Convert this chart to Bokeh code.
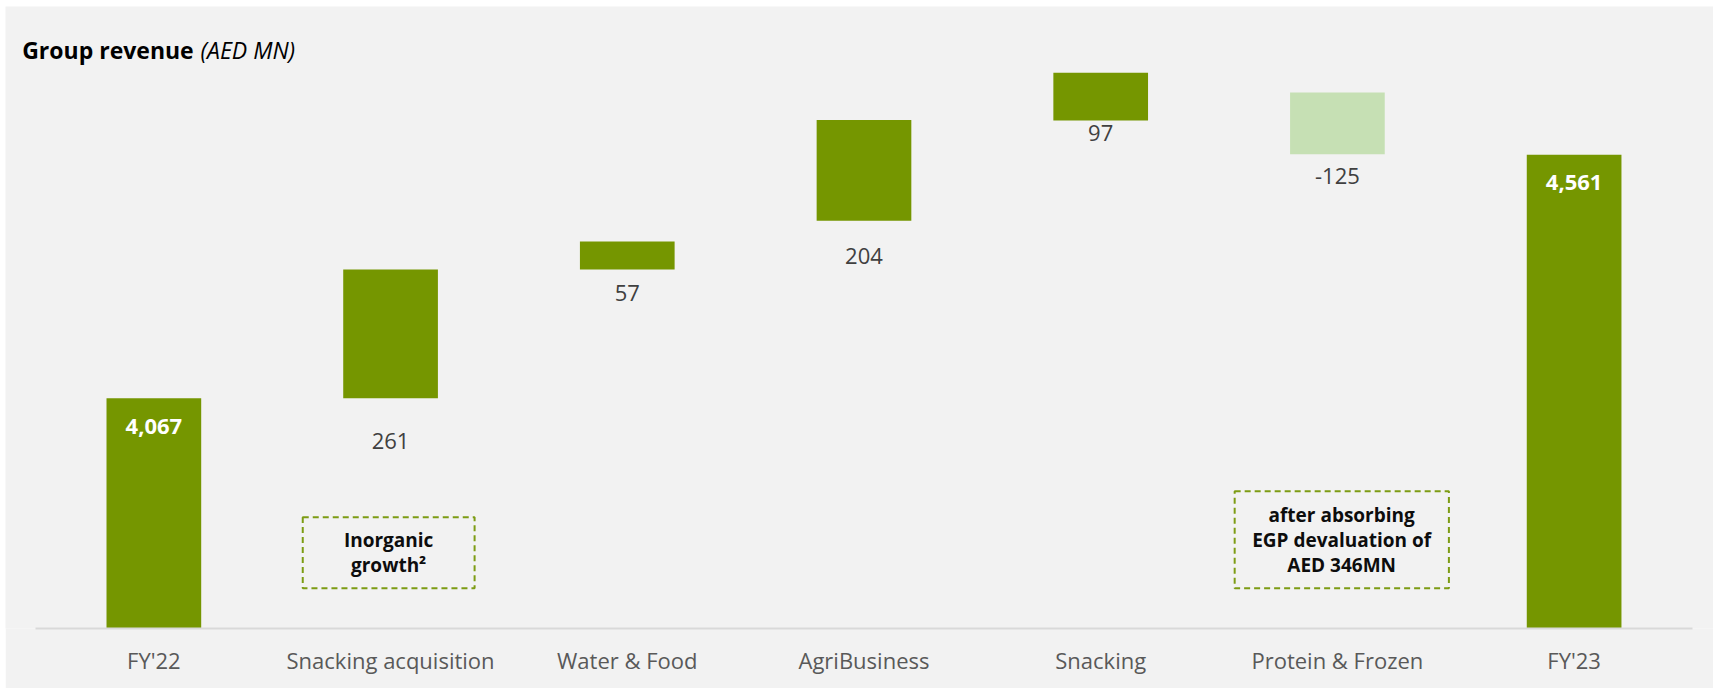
from bokeh.plotting import figure
from bokeh.models import ColumnDataSource, Range1d, FixedTicker
from bokeh.core.properties import value
from bokeh.embed import file_html
from bokeh.resources import INLINE

# ---------------- data (AED MN) ----------------
categories = ["FY'22", "Snacking acquisition", "Water & Food", "AgriBusiness",
              "Snacking", "Protein & Frozen", "FY'23"]
values = [4067, 261, 57, 204, 97, -125, 4561]
is_total = [True, False, False, False, False, False, True]
# level at which each bar starts
step_start = [0, 4067, 4328, 4427, 4630, 4687, 0]

# ---------------- styling ----------------
GREEN = "#759600"
LIGHT = "#c6e0b4"
DASH = "#7d9c14"
BG = "#f2f2f2"
FONT = "Open Sans"

# pixel gap from bar bottom to the centre of each change label (style only)
label_gap_px = [43, 23, 35, 12, 22]

xpos = list(range(len(categories)))
ends = [s + v for s, v in zip(step_start, values)]
low = [min(s, e) for s, e in zip(step_start, ends)]
high = [max(s, e) for s, e in zip(step_start, ends)]
colors = [GREEN if (t or v > 0) else LIGHT for t, v in zip(is_total, values)]

bars = ColumnDataSource(dict(x=xpos, low=low, high=high, color=colors))

d_idx = [i for i, t in enumerate(is_total) if not t]
t_idx = [i for i, t in enumerate(is_total) if t]
deltas = ColumnDataSource(dict(
    x=[xpos[i] for i in d_idx],
    y=[low[i] for i in d_idx],
    text=[str(values[i]) for i in d_idx],
    off=label_gap_px,
))
totals = ColumnDataSource(dict(
    x=[xpos[i] for i in t_idx],
    y=[high[i] for i in t_idx],
    text=[f"{values[i]:,}" for i in t_idx],
))

# ---------------- geometry ----------------
W, H = 1708, 682
CAT_PX = 236.71          # pixels per category slot
LEFT_PAD = 30            # px from figure edge to first slot
FRAME_H = 622
BOTTOM = H - FRAME_H
Y0 = 3600
PX_PER_UNIT = 0.4931
Y1 = Y0 + FRAME_H / PX_PER_UNIT
X0 = -0.5 - LEFT_PAD / CAT_PX
X1 = X0 + W / CAT_PX

p = figure(
    x_range=Range1d(X0, X1), y_range=Range1d(Y0, Y1),
    frame_width=W, frame_height=FRAME_H,
    min_border_left=0, min_border_right=0,
    min_border_top=0, min_border_bottom=BOTTOM,
    y_axis_location=None, toolbar_location=None, output_backend="svg",
    background_fill_color=BG, border_fill_color=BG, outline_line_color=None,
)
p.margin = (6, 0, 0, 5)
p.xgrid.grid_line_color = None
p.ygrid.grid_line_color = None

p.vbar(x="x", top="high", bottom="low", width=0.40, fill_color="color",
       line_color=None, source=bars)

p.text(x="x", y="y", text="text", y_offset="off", source=deltas,
       text_align="center", text_baseline="middle",
       text_font=value(FONT), text_font_size="22px", text_color="#404040")

p.text(x="x", y="y", text="text", y_offset=28, source=totals,
       text_align="center", text_baseline="middle",
       text_font=value(FONT), text_font_size="22px", text_font_style="bold",
       text_color="white")

# dashed note boxes
p.quad(left=[0.629, 4.566], right=[1.355, 5.471],
       top=[3825.7, 3878.4], bottom=[3681.7, 3681.7],
       fill_color=None, line_color=DASH, line_width=2, line_dash="6 4")
p.text(x=[0.992, 5.018], y=[3753.7, 3780.0],
       text=["Inorganic\ngrowth\u00b2", "after absorbing\nEGP devaluation of\nAED 346MN"],
       text_align="center", text_baseline="middle", line_height=0.96,
       text_font=value(FONT), text_font_size="19px", text_font_style="bold",
       text_color="#0d0d0d")

# title (drawn inside the frame, at its top-left corner)
p.text(x=[X0], y=[Y1], text=["Group revenue"], x_offset=16.7, y_offset=43.3,
       text_align="left", text_baseline="alphabetic",
       text_font=value(FONT), text_font_size="23px", text_font_style="bold",
       text_color="black")
p.text(x=[X0], y=[Y1], text=["(AED MN)"], x_offset=195, y_offset=43.3,
       text_align="left", text_baseline="alphabetic",
       text_font=value(FONT), text_font_size="23px", text_font_style="italic",
       text_color="black")

ax = p.xaxis[0]
ax.ticker = FixedTicker(ticks=xpos)
ax.major_label_overrides = {i: c for i, c in zip(xpos, categories)}
ax.bounds = (-0.5, len(categories) - 0.5)
ax.axis_line_color = "#d9d9d9"
ax.axis_line_width = 2
ax.major_tick_line_color = None
ax.minor_tick_line_color = None
ax.major_tick_in = 0
ax.major_tick_out = 0
ax.minor_tick_in = 0
ax.minor_tick_out = 0
ax.major_label_text_font = FONT
ax.major_label_text_font_size = "22px"
ax.major_label_text_color = "#595959"
ax.major_label_standoff = 16

open("out.html", "w").write(file_html(p, INLINE))
